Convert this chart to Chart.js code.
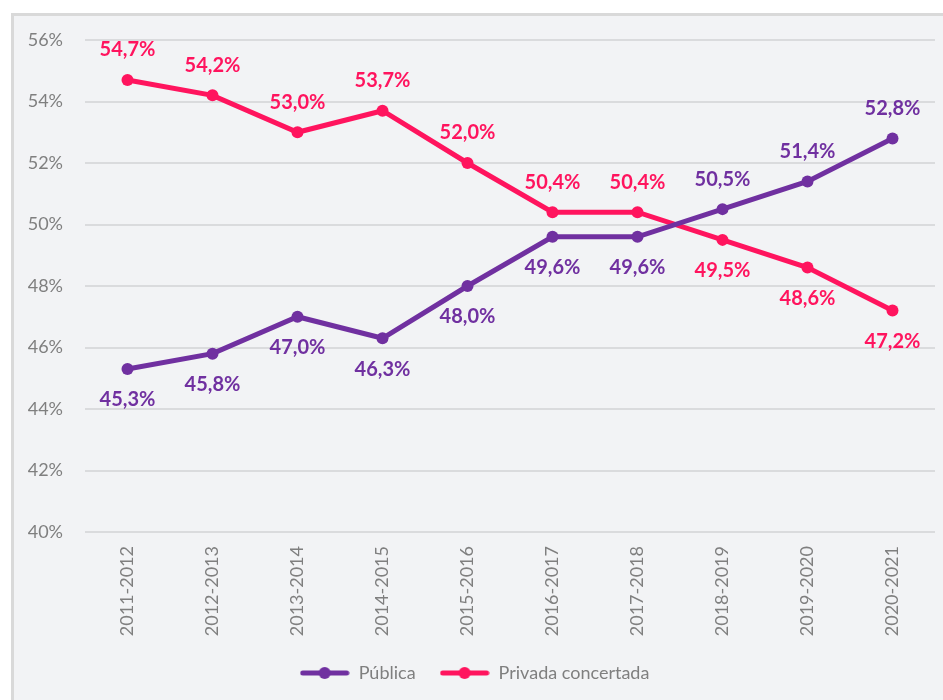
<!DOCTYPE html>
<html>
<head>
<meta charset="utf-8">
<script src="https://cdn.jsdelivr.net/npm/chart.js@4.4.1/dist/chart.umd.min.js"></script>
<style>
  body { margin: 0; background: #ffffff; overflow: hidden; }
  #marco {
    position: absolute; left: 11px; top: 13px;
    width: 932px; height: 687px;
    border-left: 3px solid #d9d9d9; border-top: 3px solid #d9d9d9;
    background: #f2f3f5;
  }
</style>
</head>
<body>
<div id="marco"><canvas id="miGrafico" width="932" height="687"></canvas></div>
<script>
// datos
const cursos = ['2011-2012', '2012-2013', '2013-2014', '2014-2015', '2015-2016',
                '2016-2017', '2017-2018', '2018-2019', '2019-2020', '2020-2021'];
const publica = [45.3, 45.8, 47.0, 46.3, 48.0, 49.6, 49.6, 50.5, 51.4, 52.8];
const privada = [54.7, 54.2, 53.0, 53.7, 52.0, 50.4, 50.4, 49.5, 48.6, 47.2];

// donde va cada etiqueta (arriba / abajo del punto)
const posPublica = ['below', 'below', 'below', 'below', 'below', 'below', 'below', 'above', 'above', 'above'];
const posPrivada = ['above', 'above', 'above', 'above', 'above', 'above', 'above', 'below', 'below', 'below'];

const colorPublica = '#7030a0';
const colorPrivada = '#ff145e';
const fuente = 'Lato, "Open Sans", sans-serif';

function iconoLeyenda(color) {
    const c = document.createElement('canvas');
    c.width = 50;
    c.height = 14;
    const ctx = c.getContext('2d');
    ctx.strokeStyle = color;
    ctx.lineWidth = 5;
    ctx.lineCap = 'round';
    ctx.beginPath();
    ctx.moveTo(3, 7);
    ctx.lineTo(47, 7);
    ctx.stroke();
    ctx.fillStyle = color;
    ctx.beginPath();
    ctx.arc(25, 7, 6, 0, Math.PI * 2);
    ctx.fill();
    return c;
}

// etiquetas de datos
const etiquetas = {
    id: 'etiquetas',
    afterDatasetsDraw(chart) {
        const ctx = chart.ctx;
        ctx.save();
        ctx.font = 'bold 20px ' + fuente;
        ctx.textAlign = 'center';
        ctx.textBaseline = 'middle';
        chart.data.datasets.forEach((ds, i) => {
            const meta = chart.getDatasetMeta(i);
            ctx.fillStyle = ds.borderColor;
            meta.data.forEach((pt, j) => {
                const dy = ds.posEtiquetas[j] === 'above' ? -30 : 31;
                const txt = ds.data[j].toFixed(1).replace('.', ',') + '%';
                ctx.fillText(txt, pt.x, pt.y + dy);
            });
        });
        ctx.restore();
    }
};

const grafico = new Chart(document.getElementById('miGrafico'), {
    type: 'line',
    data: {
        labels: cursos,
        datasets: [
            {
                label: 'Pública',
                data: publica,
                posEtiquetas: posPublica,
                borderColor: colorPublica,
                backgroundColor: colorPublica,
                borderWidth: 5,
                pointRadius: 6,
                pointHoverRadius: 6,
                pointBorderWidth: 0,
                tension: 0
            },
            {
                label: 'Privada concertada',
                data: privada,
                posEtiquetas: posPrivada,
                borderColor: colorPrivada,
                backgroundColor: colorPrivada,
                borderWidth: 5,
                pointRadius: 6,
                pointHoverRadius: 6,
                pointBorderWidth: 0,
                tension: 0
            }
        ]
    },
    options: {
        responsive: false,
        animation: false,
        layout: { padding: { top: 24, right: 11, bottom: 11, left: 0 } },
        scales: {
            x: {
                offset: true,
                grid: { display: false, drawTicks: false },
                border: { display: false },
                ticks: {
                    color: '#7f7f7f',
                    font: { family: fuente, size: 18 },
                    maxRotation: 90,
                    minRotation: 90,
                    padding: 14
                },
                afterFit(scale) { scale.height = 108; }
            },
            y: {
                min: 40,
                max: 56,
                grid: { color: '#dadbdd', lineWidth: 2, drawTicks: false },
                border: { display: false },
                ticks: {
                    stepSize: 2,
                    color: '#7f7f7f',
                    font: { family: fuente, size: 18 },
                    padding: 22,
                    callback: v => v + '%'
                },
                afterFit(scale) {
                    scale.width = 71;
                    scale.paddingTop = 0;
                    scale.paddingBottom = 0;
                }
            }
        },
        plugins: {
            tooltip: { enabled: false },
            legend: {
                position: 'bottom',
                labels: {
                    color: '#7f7f7f',
                    font: { family: fuente, size: 18 },
                    usePointStyle: true,
                    pointStyleWidth: 50,
                    padding: 24,
                    generateLabels(chart) {
                        const items = Chart.defaults.plugins.legend.labels.generateLabels(chart);
                        items.forEach((it, i) => {
                            it.pointStyle = iconoLeyenda(chart.data.datasets[i].borderColor);
                        });
                        return items;
                    }
                }
            }
        }
    },
    plugins: [etiquetas]
});
</script>
</body>
</html>
